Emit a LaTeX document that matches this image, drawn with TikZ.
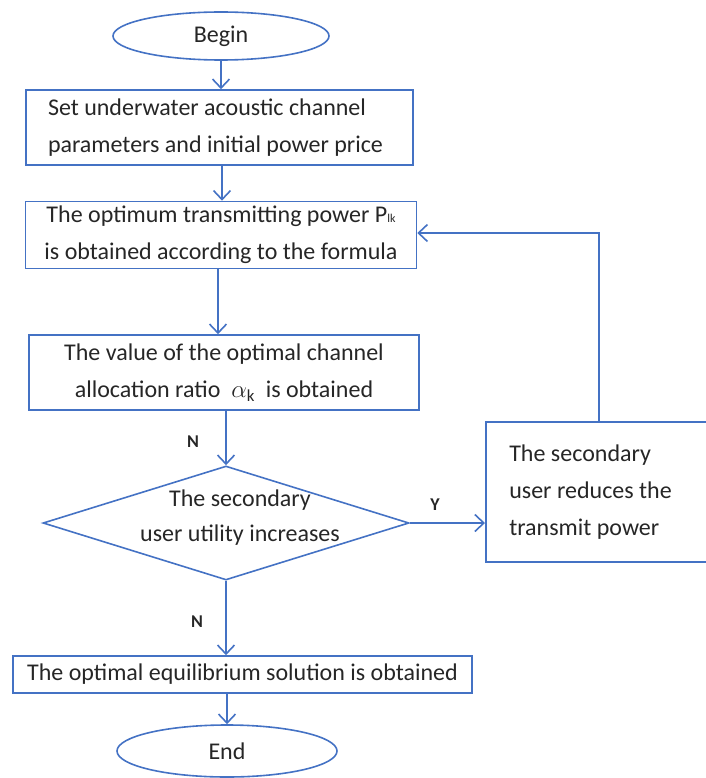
\documentclass[tikz,border=0pt]{standalone}
\usepackage{fontspec}
\setmainfont{Carlito}
\usetikzlibrary{shapes.geometric,arrows.meta}
\definecolor{lineblue}{RGB}{68,114,196}
\definecolor{txt}{RGB}{38,38,38}
\begin{document}
\begin{tikzpicture}[x=1pt,y=-1pt,
  every node/.style={text=txt,font=\fontsize{24}{37}\selectfont},
  flow/.style={draw=lineblue,line width=1.6pt},
  term/.style={flow,ellipse,inner sep=0pt},
  proc/.style={flow,rectangle,inner sep=0pt,align=center},
  arr/.style={draw=lineblue,line width=1.6pt,-{Straight Barb[length=9pt,width=17pt,line width=1.6pt]}},
  lab/.style={font=\fontsize{18}{20}\selectfont\bfseries}]
\useasboundingbox (0,0) rectangle (705,778);
\node[term,minimum width=216pt,minimum height=48pt] (begin) at (221,36) {Begin};
\node[proc,minimum width=387pt,minimum height=75pt,text width=343pt,align=left] (b1) at (219.5,127.5)
  {\spaceskip=0pt\xspaceskip=0pt Set underwater acoustic channel\\parameters and initial power price};
\node[proc,minimum width=391pt,minimum height=67pt] (b2) at (221,235)
  {The optimum transmitting power P{\fontsize{12}{12}\selectfont lk}\\is obtained according to the formula};
\node[proc,minimum width=390pt,minimum height=75pt] (b3) at (224,372.5)
  {The value of the optimal channel\\allocation ratio \ $\alpha_{\mathrm{k}}$ \ is obtained};
\node[flow,diamond,inner sep=0pt,minimum width=366pt,minimum height=114pt] (dia) at (226,523) {};
\node[align=center,font=\fontsize{24}{35}\selectfont] (diatext) at (240,518) {The secondary\\user utility increases};
\node[proc,minimum width=227pt,minimum height=140pt,anchor=west,text width=180pt,align=left] (b4) at (485,492)
  {\spaceskip=0pt\xspaceskip=0pt The secondary\\user reduces the\\transmit power};
\node[proc,minimum width=459pt,minimum height=37pt] (b5) at (242.5,674.5)
  {The optimal equilibrium solution is obtained};
\node[term,minimum width=220pt,minimum height=52pt] (end) at (227,751) {End};
\coordinate (turn) at (599,233);
\coordinate (c23) at (218,0);
\draw[arr] (begin.south) -- (begin.south |- b1.north);
\draw[arr] (b1.south -| 222,0) -- (222,0 |- b2.north);
\draw[arr] (b2.south -| c23) -- (c23 |- b3.north);
\draw[arr] (b3.south -| dia.north) -- (dia.north);
\draw[arr] (dia.east) -- (dia.east -| b4.west);
\draw[arr] (dia.south) -- (dia.south |- b5.north);
\draw[arr] (b5.south -| end.north) -- (end.north);
\draw[arr] (b4.north -| turn) -- (turn) -- (b2.east |- turn);
\node[lab] (n1) at (193,442) {N};
\node[lab] (y1) at (435,505) {Y};
\node[lab] (n2) at (197,622) {N};
\end{tikzpicture}
\end{document}
